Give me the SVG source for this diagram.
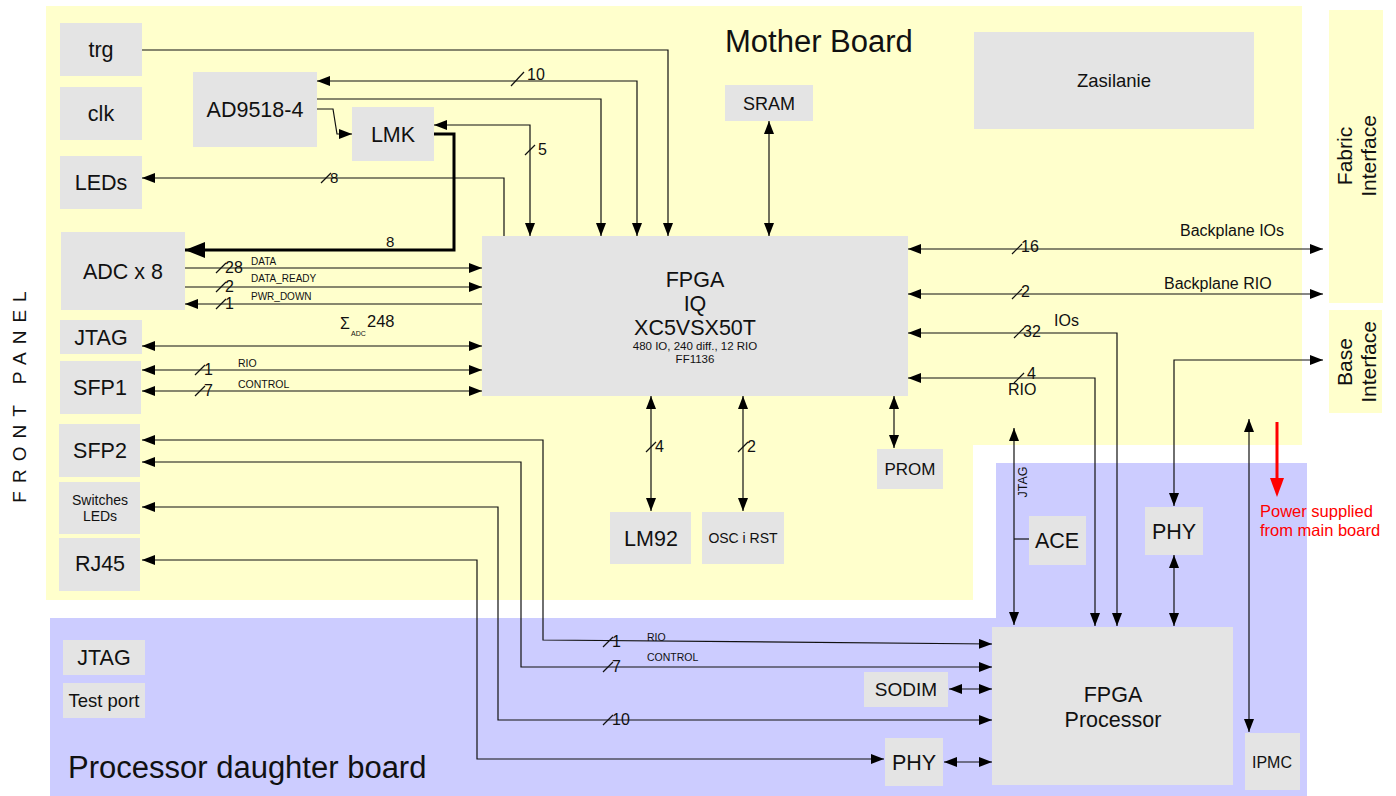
<svg xmlns="http://www.w3.org/2000/svg" width="1396" height="796" viewBox="0 0 1396 796">
<defs>
<marker id="a" markerUnits="userSpaceOnUse" markerWidth="14" markerHeight="10" refX="13" refY="5" orient="auto-start-reverse"><path d="M0,0 L13,5 L0,10 z" fill="#000"/></marker>
<marker id="b" markerUnits="userSpaceOnUse" markerWidth="22" markerHeight="16" refX="20" refY="8" orient="auto-start-reverse"><path d="M0,0 L20,8 L0,16 z" fill="#000"/></marker>
<style>
text{font-family:"Liberation Sans",Arial,sans-serif;fill:#111}
.n{fill:#e4e4e4}
.c{fill:none;stroke:#111;stroke-width:1.2}
.m{text-anchor:middle}
.s{stroke:#111;stroke-width:1.2}
.L{font-size:21.5px}
</style>
</defs>
<rect width="1396" height="796" fill="#fff"/>
<path d="M46,6 H1302 V445 H973 V600 H46 Z" fill="#ffffcc"/>
<path d="M996,463 H1307 V796 H50 V618 H996 Z" fill="#ccccff"/>
<rect x="1329" y="10" width="54" height="293" fill="#ffffcc"/>
<rect x="1329" y="310" width="53" height="103" fill="#ffffcc"/>
<text x="725" y="52" font-size="31">Mother Board</text>
<text x="68" y="778" font-size="31">Processor daughter board</text>
<text transform="translate(26,393) rotate(-90)" font-size="19" letter-spacing="8" class="m">FRONT PANEL</text>
<text transform="translate(1356,156) rotate(-90)" font-size="21" class="m"><tspan x="0" y="-4">Fabric</tspan><tspan x="0" y="20">Interface</tspan></text>
<text transform="translate(1356,362) rotate(-90)" font-size="21" class="m"><tspan x="0" y="-4">Base</tspan><tspan x="0" y="20">Interface</tspan></text>

<g id="connectors">
<path class="c" d="M142,50 H668 V236" marker-end="url(#a)"/>
<path class="c" d="M317,81 H637 V236" marker-start="url(#a)" marker-end="url(#a)"/>
<path class="c" d="M317,99 H601 V236" marker-end="url(#a)"/>
<path class="c" d="M317,109 H333 L337,134 H352" marker-end="url(#a)"/>
<path class="c" d="M434,125 H530 V236" marker-start="url(#a)" marker-end="url(#a)"/>
<path class="c" d="M504,236 V178 H142" marker-end="url(#a)"/>
<path d="M434,134 H454 V250 H185" fill="none" stroke="#000" stroke-width="3" marker-end="url(#b)"/>
<path class="c" d="M769,121 V236" marker-start="url(#a)" marker-end="url(#a)"/>
<path class="c" d="M185,268 H482" marker-end="url(#a)"/>
<path class="c" d="M185,287 H482" marker-end="url(#a)"/>
<path class="c" d="M482,304 H185" marker-end="url(#a)"/>
<path class="c" d="M142,346 H482" marker-start="url(#a)" marker-end="url(#a)"/>
<path class="c" d="M142,370 H482" marker-start="url(#a)" marker-end="url(#a)"/>
<path class="c" d="M142,391 H482" marker-start="url(#a)" marker-end="url(#a)"/>
<path class="c" d="M908,249 H1323" marker-start="url(#a)" marker-end="url(#a)"/>
<path class="c" d="M908,294 H1323" marker-start="url(#a)" marker-end="url(#a)"/>
<path class="c" d="M908,333 H1117 V626" marker-start="url(#a)" marker-end="url(#a)"/>
<path class="c" d="M908,378 H1095 V626" marker-start="url(#a)" marker-end="url(#a)"/>
<path class="c" d="M894,396 V448" marker-start="url(#a)" marker-end="url(#a)"/>
<path class="c" d="M651,396 V511" marker-start="url(#a)" marker-end="url(#a)"/>
<path class="c" d="M743,396 V511" marker-start="url(#a)" marker-end="url(#a)"/>
<path class="c" d="M1014,428 V625" marker-start="url(#a)" marker-end="url(#a)"/>
<path class="c" d="M1014,539 H1029"/>
<path class="c" d="M1323,360 H1174 V506" marker-start="url(#a)" marker-end="url(#a)"/>
<path class="c" d="M1174,555 V626" marker-start="url(#a)" marker-end="url(#a)"/>
<path class="c" d="M1249,419 V732" marker-start="url(#a)" marker-end="url(#a)"/>
<path class="c" d="M992,644 L543,640 V440 H142" marker-start="url(#a)" marker-end="url(#a)"/>
<path class="c" d="M992,667 H521 V462 H142" marker-start="url(#a)" marker-end="url(#a)"/>
<path class="c" d="M992,720 H498 V507 H142" marker-start="url(#a)" marker-end="url(#a)"/>
<path class="c" d="M884,759 H477 V560 H142" marker-start="url(#a)" marker-end="url(#a)"/>
<path class="c" d="M949,689 H992" marker-start="url(#a)" marker-end="url(#a)"/>
<path class="c" d="M944,762 H992" marker-start="url(#a)" marker-end="url(#a)"/>
<line x1="1277" y1="422" x2="1277" y2="480" stroke="#ff0000" stroke-width="3"/>
<path d="M1270,478 H1284 L1277,497 Z" fill="#ff0000"/>
<g class="s">
<line x1="511" y1="86" x2="524" y2="72"/>
<line x1="525" y1="155" x2="535" y2="145"/>
<line x1="321" y1="183" x2="331" y2="173"/>
<line x1="216" y1="273" x2="226" y2="263"/>
<line x1="216" y1="292" x2="226" y2="282"/>
<line x1="216" y1="309" x2="226" y2="299"/>
<line x1="195" y1="375" x2="205" y2="365"/>
<line x1="195" y1="396" x2="205" y2="386"/>
<line x1="1012" y1="254" x2="1022" y2="244"/>
<line x1="1012" y1="299" x2="1022" y2="289"/>
<line x1="1014" y1="338" x2="1024" y2="328"/>
<line x1="1014" y1="383" x2="1024" y2="373"/>
<line x1="646" y1="452" x2="656" y2="442"/>
<line x1="738" y1="452" x2="748" y2="442"/>
<line x1="603" y1="647" x2="613" y2="637"/>
<line x1="603" y1="672" x2="613" y2="662"/>
<line x1="603" y1="725" x2="613" y2="715"/>
</g>
<text x="527" y="80" font-size="16">10</text>
<text x="538" y="155" font-size="16">5</text>
<text x="330" y="183" font-size="15">8</text>
<text x="386" y="247" font-size="15">8</text>
<text x="225" y="273" font-size="16">28</text>
<text x="225" y="292" font-size="16">2</text>
<text x="225" y="309" font-size="16">1</text>
<text x="251" y="265" font-size="10">DATA</text>
<text x="251" y="282" font-size="10">DATA_READY</text>
<text x="251" y="300" font-size="10">PWR_DOWN</text>
<text x="340" y="329" font-size="16">Σ</text>
<text x="351" y="336" font-size="7">ADC</text>
<text x="367" y="327" font-size="16.5">248</text>
<text x="204" y="375" font-size="16">1</text>
<text x="204" y="396" font-size="16">7</text>
<text x="238" y="367" font-size="10.5">RIO</text>
<text x="238" y="388" font-size="10.5">CONTROL</text>
<text x="1021" y="252" font-size="16">16</text>
<text x="1021" y="297" font-size="16">2</text>
<text x="1180" y="236" font-size="16">Backplane IOs</text>
<text x="1164" y="289" font-size="16">Backplane RIO</text>
<text x="1023" y="337" font-size="16">32</text>
<text x="1054" y="326" font-size="16">IOs</text>
<text x="1027" y="379" font-size="16">4</text>
<text x="1008" y="395" font-size="16">RIO</text>
<text x="655" y="452" font-size="16">4</text>
<text x="747" y="452" font-size="16">2</text>
<text transform="translate(1027,482) rotate(-90)" font-size="12.5" class="m">JTAG</text>
<text x="612" y="647" font-size="16">1</text>
<text x="612" y="672" font-size="16">7</text>
<text x="612" y="725" font-size="16">10</text>
<text x="647" y="641" font-size="10.5">RIO</text>
<text x="647" y="661" font-size="10.5">CONTROL</text>
<text x="1260" y="517" font-size="16.5" style="fill:#ff0000">Power supplied</text>
<text x="1260" y="536" font-size="16.5" style="fill:#ff0000">from main board</text>
</g>

<g id="trg"><rect class="n" x="60" y="23" width="82" height="53"/><text class="m L" x="101" y="57">trg</text></g>
<g id="clk"><rect class="n" x="60" y="87" width="82" height="53"/><text class="m L" x="101" y="121">clk</text></g>
<g id="ad9518"><rect class="n" x="193" y="72" width="124" height="75"/><text class="m L" x="255" y="117">AD9518-4</text></g>
<g id="lmk"><rect class="n" x="352" y="107" width="82" height="54"/><text class="m L" x="393" y="142">LMK</text></g>
<g id="leds"><rect class="n" x="60" y="156" width="82" height="53"/><text class="m L" x="101" y="190">LEDs</text></g>
<g id="adc"><rect class="n" x="61" y="232" width="124" height="78"/><text class="m L" x="123" y="279">ADC x 8</text></g>
<g id="jtag1"><rect class="n" x="60" y="320" width="82" height="34"/><text class="m L" x="101" y="345">JTAG</text></g>
<g id="sfp1"><rect class="n" x="60" y="361" width="81" height="53"/><text class="m L" x="100" y="395">SFP1</text></g>
<g id="sfp2"><rect class="n" x="59" y="424" width="81" height="53"/><text class="m L" x="100" y="458">SFP2</text></g>
<g id="switches"><rect class="n" x="59" y="482" width="81" height="52"/><text class="m" x="100" y="505" font-size="14">Switches</text><text class="m" x="100" y="521" font-size="14">LEDs</text></g>
<g id="rj45"><rect class="n" x="59" y="538" width="81" height="53"/><text class="m L" x="100" y="571">RJ45</text></g>
<g id="fpgaiq"><rect class="n" x="482" y="236" width="426" height="160"/>
<text class="m L" x="695" y="287">FPGA</text>
<text class="m L" x="695" y="311">IQ</text>
<text class="m L" x="695" y="335">XC5VSX50T</text>
<text class="m" x="695" y="350" font-size="11.5">480 IO, 240 diff., 12 RIO</text>
<text class="m" x="695" y="363" font-size="11.5">FF1136</text></g>
<g id="sram"><rect class="n" x="725" y="85" width="88" height="36"/><text class="m" x="769" y="110" font-size="18">SRAM</text></g>
<g id="zasilanie"><rect class="n" x="974" y="32" width="280" height="97"/><text class="m" x="1114" y="87" font-size="18.5">Zasilanie</text></g>
<g id="prom"><rect class="n" x="877" y="449" width="66" height="40"/><text class="m" x="910" y="475" font-size="17">PROM</text></g>
<g id="lm92"><rect class="n" x="610" y="512" width="81" height="52"/><text class="m L" x="651" y="546">LM92</text></g>
<g id="osc"><rect class="n" x="702" y="512" width="82" height="52"/><text class="m" x="743" y="543" font-size="14">OSC i RST</text></g>
<g id="ace"><rect class="n" x="1029" y="516" width="57" height="49"/><text class="m L" x="1057" y="548">ACE</text></g>
<g id="phy1"><rect class="n" x="1145" y="507" width="58" height="48"/><text class="m L" x="1174" y="539">PHY</text></g>
<g id="fpgaproc"><rect class="n" x="992" y="627" width="241" height="158"/><text class="m L" x="1113" y="702">FPGA</text><text class="m L" x="1113" y="727">Processor</text></g>
<g id="sodim"><rect class="n" x="864" y="672" width="84" height="35"/><text class="m" x="906" y="696" font-size="19">SODIM</text></g>
<g id="phy2"><rect class="n" x="885" y="738" width="58" height="48"/><text class="m L" x="914" y="770">PHY</text></g>
<g id="ipmc"><rect class="n" x="1245" y="733" width="55" height="57"/><text class="m" x="1272" y="768" font-size="16">IPMC</text></g>
<g id="jtag2"><rect class="n" x="63" y="640" width="82" height="35"/><text class="m L" x="104" y="665">JTAG</text></g>
<g id="testport"><rect class="n" x="63" y="683" width="82" height="35"/><text class="m" x="104" y="707" font-size="18.5">Test port</text></g>
</svg>
